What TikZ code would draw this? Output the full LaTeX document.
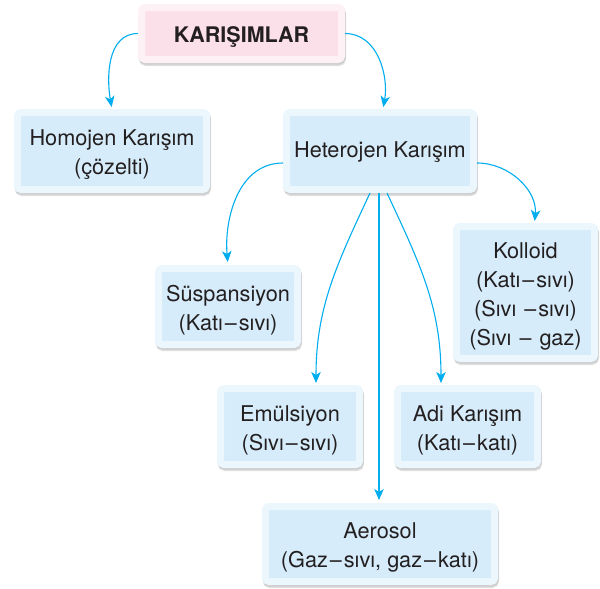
\documentclass[tikz,border=0pt]{standalone}
\usepackage{fontspec}
\setmainfont{TeX Gyre Heros}
\newfontfamily\minusfont{DejaVu Sans}
\newcommand{\mns}{{\minusfont\fontsize{19}{19}\selectfont −}}
\usetikzlibrary{arrows.meta}
\definecolor{innerb}{RGB}{214,236,250}
\definecolor{outerb}{RGB}{235,246,253}
\definecolor{innerp}{RGB}{251,224,234}
\definecolor{outerp}{RGB}{253,241,245}
\definecolor{cyanc}{RGB}{0,173,239}
\definecolor{txt}{RGB}{35,31,32}
\tikzset{
  box/.style={draw=outerb, fill=innerb, line width=7pt, rounded corners=3.5pt, inner sep=0pt,
    preaction={draw=black!12, fill=black!12, transform canvas={xshift=1pt,yshift=-3pt}},
    preaction={draw=black!20, fill=black!20, transform canvas={xshift=0.5pt,yshift=-1.5pt}}},
  pinkbox/.style={box, draw=outerp, fill=innerp},
  boxtext/.style={align=center, font=\fontsize{21.7}{29}\selectfont, text=txt, inner sep=0pt},
  pinktext/.style={boxtext, font=\fontsize{21.5}{25}\selectfont\bfseries},
  conn/.style={draw=cyanc, line width=1.1pt, -{Stealth[length=11pt,width=9.5pt,inset=3pt]}}
}
\begin{document}
\begin{tikzpicture}[x=1pt,y=-1pt]
\useasboundingbox (0,0) rectangle (600,589);
\node[pinkbox, minimum width=200, minimum height=52] (kar) at (241.5,33.5) {};
\node[pinktext] (kart) at ([yshift=-3pt]kar.center) {KARIŞIMLAR};
\node[box, minimum width=189, minimum height=77] (hom) at (112,151) {};
\node[boxtext] (homt) at ([yshift=-3.5pt]hom.center) {Homojen Karışım\\(çözelti)};
\node[box, minimum width=187, minimum height=77] (het) at (380,151) {};
\node[boxtext] (hett) at ([yshift=-1pt]het.center) {Heterojen Karışım};
\node[box, minimum width=138, minimum height=132] (kol) at (525.5,292.5) {};
\node[boxtext] (kolt) at ([yshift=-3.5pt]kol.center) {Kolloid\\(Katı\mns sıvı)\\(Sıvı \mns sıvı)\\(Sıvı \mns{} gaz)};
\node[box, minimum width=139, minimum height=76] (sus) at (228,306.5) {};
\node[boxtext] (sust) at ([yshift=-3.5pt]sus.center) {Süspansiyon\\(Katı\mns sıvı)};
\node[box, minimum width=139, minimum height=76] (emu) at (290,426.5) {};
\node[boxtext] (emut) at ([yshift=-3.5pt]emu.center) {Emülsiyon\\(Sıvı\mns sıvı)};
\node[box, minimum width=140, minimum height=76] (adi) at (467.5,426.5) {};
\node[boxtext] (adit) at ([yshift=-3.5pt]adi.center) {Adi Karışım\\(Katı\mns katı)};
\node[box, minimum width=229, minimum height=75] (aer) at (380,544) {};
\node[boxtext] (aert) at ([yshift=-3.5pt]aer.center) {Aerosol\\(Gaz\mns sıvı, gaz\mns katı)};
\draw[conn, shorten >=2pt] (kar.west) to[out=180,in=100] (hom.north);
\draw[conn, shorten >=2pt] (kar.east) to[out=0,in=80] ([xshift=3pt]het.north);
\draw[conn, shorten >=3pt] ([yshift=-12pt]het.west) to[out=180,in=95] (sus.north);
\draw[conn, shorten >=2pt] ([yshift=-12pt]het.east) to[out=0,in=85] ([xshift=9pt]kol.north);
\draw[conn, shorten >=2pt] ([xshift=-10pt]het.south) to[out=-115,in=90] ([xshift=26pt]emu.north);
\draw[conn, shorten >=2pt] ([xshift=7pt]het.south) to[out=-65,in=90] ([xshift=-26.5pt]adi.north);
\draw[conn, shorten >=3pt] ([xshift=-1pt]het.south) -- ([xshift=-1pt]aer.north);
\end{tikzpicture}
\end{document}
